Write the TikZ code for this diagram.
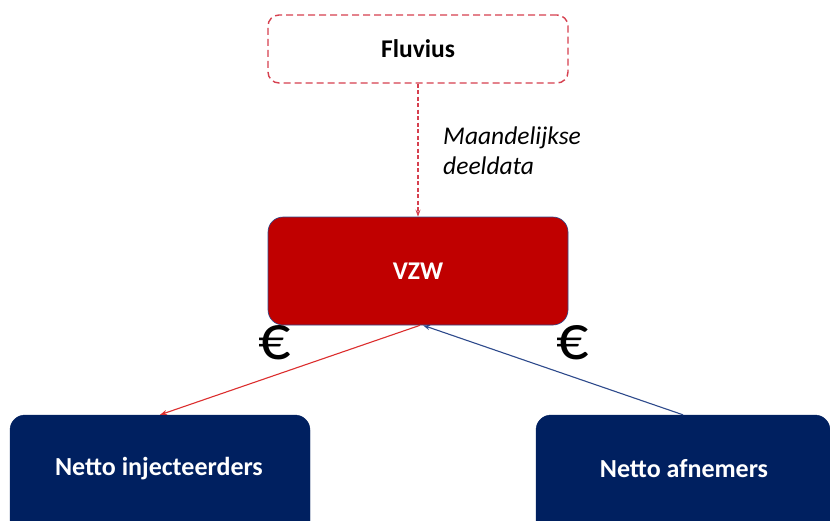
\documentclass[tikz,border=0pt]{standalone}
\usepackage{fontspec}
\setmainfont{Carlito}
\usetikzlibrary{arrows.meta}
\definecolor{flred}{HTML}{D6404F}
\definecolor{vzwred}{HTML}{C00000}
\definecolor{navy}{HTML}{002060}
\definecolor{arrred}{HTML}{DC2E2E}
\definecolor{arrblue}{HTML}{2E4A8C}
\tikzset{
  boxbase/.style={rounded corners=15pt, minimum width=300pt, align=center, inner sep=0pt},
  fluvbox/.style={boxbase, draw=flred, dashed, dash pattern=on 7pt off 4pt, line width=1.4pt, minimum height=68pt, rounded corners=11pt, font=\fontsize{25.5}{30}\selectfont\bfseries},
  vzwbox/.style={boxbase, fill=vzwred, draw=arrblue, line width=0.6pt, minimum height=108pt, text=white, font=\fontsize{25.5}{30}\selectfont\bfseries},
  navybox/.style={boxbase, fill=navy, draw=navy, minimum height=130pt},
  navytext/.style={font=\fontsize{26}{30}\selectfont\bfseries, text=white},
  tip/.style={-{Stealth[length=7pt,width=5pt]}},
  euro/.style={font=\fontsize{64}{70}\selectfont, inner sep=0pt}
}
\begin{document}
\begin{tikzpicture}[x=1pt,y=-1pt]
\clip (0,0) rectangle (830,520);
\fill[white] (0,0) rectangle (830,520);
\node[fluvbox] (fl) at (418,49) {Fluvius};
\node[vzwbox] (vzw) at (418,271) {VZW};
\node[navybox] (inj) at (160,480) {};
\node[navybox, minimum width=294pt] (afn) at (683,480) {};
\node[navytext] (injt) at (159,469) {Netto injecteerders};
\node[navytext] (afnt) at (684,469) {Netto afnemers};
\node[font=\fontsize{25.5}{30}\selectfont\itshape, align=left, anchor=north west, inner sep=0pt] (lbl) at (443,127) {Maandelijkse\\deeldata};
\node[euro] (e1) at (275,343) {€};
\node[euro] (e2) at (573,343) {€};
\draw[flred, line width=1.2pt, dash pattern=on 4pt off 2.5pt, tip] (fl.south) -- (vzw.north);
\draw[arrred, line width=1.1pt, tip] ([xshift=2pt]vzw.south) -- (inj.north);
\draw[arrblue, line width=1.1pt, tip] (afn.north) -- ([xshift=5pt]vzw.south);
\end{tikzpicture}
\end{document}
